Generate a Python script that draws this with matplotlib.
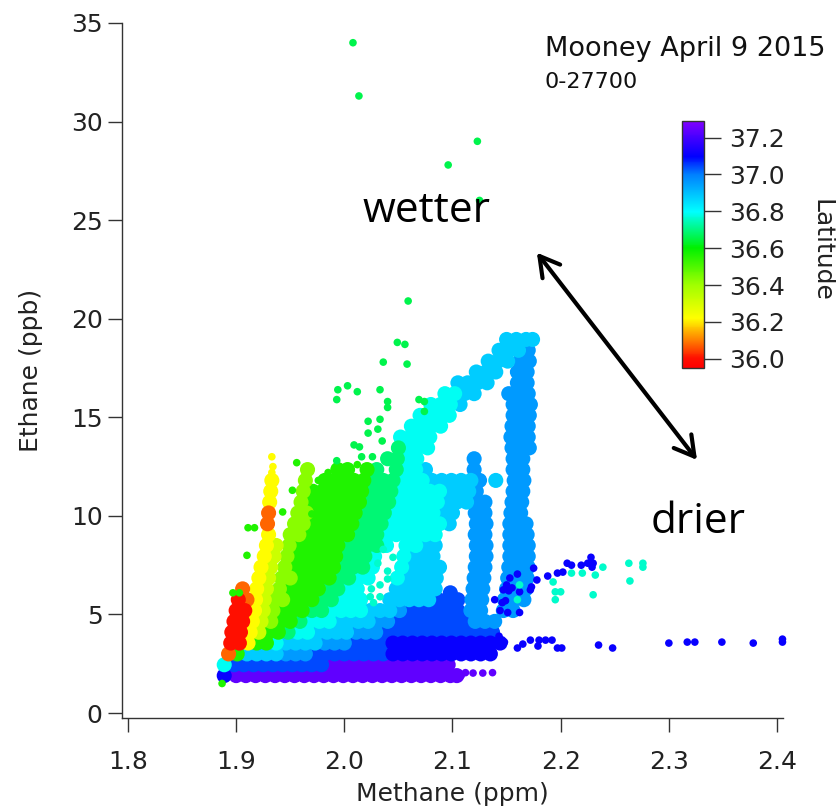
import matplotlib
matplotlib.use("Agg")
import matplotlib.pyplot as plt
from matplotlib.colors import LinearSegmentedColormap, Normalize
from matplotlib.cm import ScalarMappable

# ---------------- data: dense core, per latitude group, {Ethane ppb row: [Methane ppm, ...]} ----------------
purple_lat = 37.24
purple_rows = {
    1.9: [1.900,1.909,1.918,1.927,1.936,1.945,1.954,1.963,1.972,1.981,1.990,1.999,2.008,
          2.017,2.026,2.035,2.044,2.053,2.062,2.071,2.080,2.089,2.098,2.104],
    2.45: [1.988,1.997,2.006,2.015,2.024,2.033,2.042,2.051,2.060,2.069,2.078,2.087,2.096],
}
darkblue_lat = 37.11
darkblue_rows = {
    1.9: [1.889],
    3.0: [2.045,2.054,2.063,2.072,2.081,2.090,2.099,2.108,2.117,2.126,2.135],
    3.55: [2.045,2.054,2.063,2.072,2.081,2.090,2.099,2.108,2.117,2.126,2.135,2.144],
}
royal_lat = 37.04
royal_rows = {
    2.45: [1.898,1.907,1.916,1.925,1.934,1.943,1.952,1.961,1.970,1.979],
    3.0: [1.973,1.982,1.991,2.000,2.009,2.018,2.027,2.036],
    3.55: [2.009,2.018,2.027,2.036],
    4.1: [2.038,2.047,2.056,2.065,2.074,2.083,2.092,2.101,2.110,2.119,2.128,2.137],
    4.65: [2.049,2.058,2.067,2.076,2.085,2.094,2.103,2.112],
    5.2: [2.060,2.069,2.078,2.087,2.096,2.105],
    5.75: [2.087,2.096,2.105],
    6.1: [2.098],
}
azure_lat = 36.96
azure_rows = {
    3.0: [1.946,1.955,1.964],
    3.55: [1.982,1.991,2.000],
    4.1: [2.011,2.020,2.029],
    4.65: [2.031,2.040,2.121,2.130,2.139],
    5.2: [2.051,2.117,2.126,2.147,2.156],
    5.75: [2.118,2.127,2.148,2.157,2.166],
    6.3: [2.119,2.128,2.150,2.159,2.168],
    6.85: [2.120,2.129,2.151,2.160,2.169],
    7.4: [2.121,2.130,2.152,2.161,2.170],
    7.95: [2.122,2.131,2.153,2.162,2.170],
    8.5: [2.122,2.131,2.153,2.162,2.170],
    9.05: [2.121,2.130,2.153,2.162,2.169],
    9.6: [2.122,2.131,2.153,2.162,2.168],
    10.15: [2.121,2.130,2.154,2.163],
    10.7: [2.121,2.130,2.155,2.164],
    11.25: [2.122,2.156,2.165],
    11.8: [2.125,2.157,2.166],
    12.35: [2.120,2.156,2.165],
    12.9: [2.120,2.156,2.165],
    13.45: [2.155,2.165,2.171],
    14.0: [2.154,2.163,2.170],
    14.55: [2.155,2.164,2.170],
    15.1: [2.156,2.165,2.171],
    15.65: [2.156,2.165,2.172],
    16.2: [2.152,2.161,2.170],
    16.75: [2.160,2.169],
    17.3: [2.160,2.169],
    17.85: [2.162,2.171],
    18.4: [2.170],
}
lightblue_lat = 36.88
lightblue_rows = {
    3.0: [1.910,1.919,1.928,1.937],
    3.55: [1.946,1.955,1.964,1.973],
    4.1: [1.975,1.984,1.993,2.002],
    4.65: [1.995,2.004,2.013,2.022],
    5.2: [2.024,2.033,2.042],
    5.75: [2.042,2.051,2.060,2.069,2.078],
    6.3: [2.048,2.057,2.066,2.075,2.084],
    6.85: [2.058,2.067,2.076,2.085],
    7.4: [2.062,2.071,2.080,2.088],
    7.95: [2.064,2.073,2.082],
    8.5: [2.075,2.084],
    9.6: [2.097],
    10.15: [2.091,2.100],
    10.7: [2.095,2.104,2.113],
    11.25: [2.097,2.106,2.115],
    11.8: [2.081,2.090,2.099,2.108,2.117,2.140],
    12.35: [2.075],
    15.65: [2.107],
    16.2: [2.111,2.120],
    16.75: [2.105,2.114,2.123,2.132],
    17.3: [2.122,2.131,2.140],
    17.85: [2.133,2.142,2.151],
    18.4: [2.143,2.152,2.161],
    18.95: [2.150,2.159,2.168,2.174],
}
cyan_lat = 36.79
cyan_rows = {
    2.45: [1.889],
    3.55: [1.937],
    4.1: [1.957,1.966],
    4.65: [1.968,1.977,1.986],
    5.2: [1.988,1.997,2.006,2.015],
    5.75: [1.997,2.006,2.015],
    6.3: [2.003,2.012],
    6.85: [2.013,2.022,2.049],
    7.4: [2.026,2.053],
    7.95: [2.028,2.055],
    8.5: [2.039,2.057,2.066],
    9.05: [2.039,2.048,2.057,2.066,2.075,2.084],
    9.6: [2.043,2.052,2.061,2.070,2.079,2.088],
    10.15: [2.046,2.055,2.064,2.073,2.082],
    10.7: [2.050,2.059,2.068,2.077,2.086],
    11.25: [2.052,2.061,2.070,2.079,2.088],
    11.8: [2.054,2.063,2.072],
    12.35: [2.057,2.066],
    12.9: [2.058,2.067],
    13.45: [2.059,2.068,2.077],
    14.0: [2.052,2.061,2.070,2.079],
    14.55: [2.062,2.071,2.080,2.089],
    15.1: [2.070,2.079,2.088,2.097],
    15.65: [2.080,2.089,2.098],
    16.2: [2.093,2.102],
}
spring_lat = 36.69
spring_rows = {
    4.1: [1.948],
    4.65: [1.959],
    5.2: [1.970,1.979],
    5.75: [1.979,1.988],
    6.3: [1.985,1.994],
    6.85: [1.995,2.004],
    7.4: [1.999,2.008,2.017],
    7.95: [2.001,2.010,2.019],
    8.5: [2.003,2.012,2.021,2.030],
    9.05: [2.012,2.021,2.030],
    9.6: [2.016,2.025,2.034],
    10.15: [2.019,2.028,2.037],
    10.7: [2.023,2.032,2.041],
    11.25: [2.025,2.034,2.043],
    11.8: [2.027,2.036,2.045],
    12.35: [2.030,2.048],
    12.9: [2.040,2.049],
    13.45: [2.050],
}
green_lat = 36.56
green_rows = {
    3.0: [1.901],
    3.55: [1.919,1.928],
    4.1: [1.930,1.939],
    4.65: [1.941,1.950],
    5.2: [1.943,1.952,1.961],
    5.75: [1.952,1.961,1.970],
    6.3: [1.949,1.958,1.967,1.976],
    6.85: [1.959,1.968,1.977,1.986],
    7.4: [1.954,1.963,1.972,1.981,1.990],
    7.95: [1.956,1.965,1.974,1.983,1.992],
    8.5: [1.958,1.967,1.976,1.985,1.994],
    9.05: [1.967,1.976,1.985,1.994,2.003],
    9.6: [1.971,1.980,1.989,1.998,2.007],
    10.15: [1.974,1.983,1.992,2.001,2.010],
    10.7: [1.969,1.978,1.987,1.996,2.005,2.014],
    11.25: [1.971,1.980,1.989,1.998,2.007,2.016],
    11.8: [1.982,1.991,2.000,2.009,2.018],
    12.35: [1.994,2.003,2.021],
}
lime_lat = 36.43
lime_rows = {
    4.65: [1.932],
    5.2: [1.934],
    5.75: [1.935,1.943],
    6.3: [1.940],
    6.85: [1.942,1.950],
    7.4: [1.945],
    7.95: [1.947],
    8.5: [1.949],
    9.05: [1.950,1.958],
    9.6: [1.954,1.962],
    10.15: [1.957,1.965],
    10.7: [1.960],
    11.25: [1.962],
    11.8: [1.964],
    12.35: [1.966],
}
chartreuse_lat = 36.32
chartreuse_rows = {
    4.1: [1.921], 4.65: [1.923], 5.2: [1.925], 5.75: [1.926], 6.3: [1.928],
    6.85: [1.930], 7.4: [1.932], 7.95: [1.935], 8.5: [1.937],
}
yellow_lat = 36.22
yellow_rows = {
    3.55: [1.911], 4.1: [1.913], 4.65: [1.915], 5.2: [1.917], 5.75: [1.918],
    6.3: [1.919], 6.85: [1.921], 7.4: [1.923], 7.95: [1.926],
    8.5: [1.928], 9.05: [1.930], 10.7: [1.931], 11.25: [1.932], 11.8: [1.933],
}
orange_lat = 36.08
orange_rows = {
    3.0: [1.893], 5.75: [1.910], 6.3: [1.906], 9.6: [1.929], 10.15: [1.930],
}
red_lat = 36.0
red_rows = {
    3.55: [1.895,1.903], 4.1: [1.896,1.904], 4.65: [1.898,1.906],
    5.2: [1.900,1.908], 5.75: [1.902],
}

# ---------------- data: sparse individual points (Methane ppm, Ethane ppb) ----------------
purple_dots = [(2.108,1.9),(2.112,2.05),(2.119,2.03),(2.128,2.03),(2.137,2.05)]
darkblue_dots = [(2.143,3.9),(2.148,3.6),(2.160,3.3),(2.165,3.5),(2.172,3.7),(2.179,3.4),
                 (2.180,3.7),(2.186,3.7),(2.192,3.7),(2.197,3.3),(2.201,3.3),(2.235,3.45),
                 (2.248,3.3),(2.300,3.55),(2.317,3.6),(2.324,3.6),(2.349,3.6),(2.378,3.55),
                 (2.405,3.6),(2.405,3.75),
                 (2.175,7.35),(2.160,7.05),(2.153,6.85),(2.150,6.5),(2.152,6.2),(2.155,6.35),
                 (2.147,6.25),(2.162,6.15),(2.172,6.25),(2.178,6.75),(2.173,6.4),(2.139,5.75),
                 (2.146,5.6),(2.149,5.7),(2.144,5.2),(2.151,5.1),(2.162,5.1),(2.188,6.95),
                 (2.197,7.1),(2.202,7.15),(2.206,7.6),(2.210,7.5),(2.219,7.5),(2.225,7.6),
                 (2.228,7.9),(2.230,7.6),(2.229,7.4)]
aqua_lat = 36.76
aqua_dots = [(2.162,6.5),(2.160,5.75),(2.193,6.65),(2.195,6.15),(2.200,6.15),(2.195,5.75),
             (2.210,7.1),(2.220,7.1),(2.232,7.0),(2.239,7.4),(2.230,6.0),(2.263,7.6),
             (2.276,7.6),(2.276,7.4),(2.264,6.7),(2.027,5.6),(2.033,5.9),
             (2.025,6.3),(2.033,6.5),(2.040,7.2),(2.031,7.6),(2.045,7.9),(2.036,8.3),
             (2.024,5.9),(2.040,6.8)]
green_dots = [(1.956,12.7),(1.976,11.8),(1.976,11.3),(1.952,11.3),(1.970,10.1),(1.943,10.2),
              (1.911,9.4),(1.917,9.4),(1.910,8.0),(1.897,6.1),(1.903,6.1),(1.887,1.5),
              (1.985,12.2),(2.012,12.6)]
outlier_lat = 36.66
outlier_dots = [(2.008,34.0),(2.0135,31.3),(2.096,27.8),(2.123,29.0),(2.125,26.0),(2.059,20.9),
                (2.049,18.8),(2.056,18.7),(2.036,17.8),(2.058,17.7),(1.994,16.4),(2.003,16.6),
                (2.012,16.3),(2.033,16.4),(1.993,15.9),(2.040,15.8),(2.040,15.5),(2.069,15.9),
                (2.074,15.8),(2.074,15.3),(2.022,14.8),(2.033,14.9),(2.022,14.2),(2.031,14.4),
                (2.035,13.8),(2.009,13.6),(2.014,13.5),(2.016,13.0),(2.026,13.0),(1.993,12.8)]
yellow_dots = [(1.933,13.0),(1.934,12.5),(1.933,12.2)]

cbar_ticks = [36.0, 36.2, 36.4, 36.6, 36.8, 37.0, 37.2]
x_ticks = [1.8, 1.9, 2.0, 2.1, 2.2, 2.3, 2.4]
y_ticks = [0, 5, 10, 15, 20, 25, 30, 35]

# ---------------- styling ----------------
lat_min, lat_max = 35.95, 37.29
anchor_lats = [35.95, 36.0, 36.1, 36.22, 36.4, 36.6, 36.8, 37.0, 37.1, 37.29]
anchor_cols = ["#ff0000", "#ff1000", "#ff8000", "#ffff00", "#a0ff00", "#00f000",
               "#00ffff", "#0080ff", "#0000ff", "#8000ff"]
cmap = LinearSegmentedColormap.from_list(
    "lat", [((v - lat_min) / (lat_max - lat_min), c) for v, c in zip(anchor_lats, anchor_cols)])
norm = Normalize(lat_min, lat_max)

W, H = 837, 810
fig = plt.figure(figsize=(W / 100, H / 100), dpi=100)
ax = fig.add_axes([122 / W, 1 - 718 / H, (783 - 122) / W, (718 - 23) / H])

BLOB = 118
DOT = 30

def draw_pts(pts, lat, size, clip=True):
    xs = [p[0] for p in pts]
    ys = [p[1] for p in pts]
    ax.scatter(xs, ys, c=[lat] * len(pts), cmap=cmap, norm=norm, s=size,
               linewidths=0, clip_on=clip, zorder=2)

def draw_rows(rows, lat, size=BLOB):
    pts = [(x, y) for y, xs in rows.items() for x in xs]
    draw_pts(pts, lat, size)

draw_rows(purple_rows, purple_lat)
draw_rows(royal_rows, royal_lat)
draw_rows(darkblue_rows, darkblue_lat)
draw_rows(azure_rows, azure_lat)
draw_rows(lightblue_rows, lightblue_lat)
draw_rows(cyan_rows, cyan_lat)
draw_rows(spring_rows, spring_lat)
draw_rows(green_rows, green_lat)
draw_rows(lime_rows, lime_lat)
draw_rows(chartreuse_rows, chartreuse_lat)
draw_rows(yellow_rows, yellow_lat)
draw_rows(orange_rows, orange_lat)
draw_rows(red_rows, red_lat)
draw_pts(purple_dots, purple_lat, DOT)
draw_pts(darkblue_dots, darkblue_lat, DOT, clip=False)
draw_pts(aqua_dots, aqua_lat, DOT)
draw_pts(green_dots, green_lat, DOT)
draw_pts(outlier_dots, outlier_lat, DOT)
draw_pts(yellow_dots, yellow_lat, DOT)

ax.set_xlim(1.7945, 2.4055)
ax.set_ylim(-0.25, 35.0)
ax.set_xticks(x_ticks)
ax.set_xticklabels([f"{v:.1f}" for v in x_ticks])
ax.set_yticks(y_ticks)
for s in ["top", "right"]:
    ax.spines[s].set_visible(False)
for s in ["left", "bottom"]:
    ax.spines[s].set_color("#333333")
    ax.spines[s].set_linewidth(1.0)
ax.tick_params(axis="both", direction="out", length=10, width=1.0, color="#333333",
               labelsize=18, labelcolor="#222222")
ax.tick_params(axis="x", pad=13)
ax.tick_params(axis="y", pad=4)
ax.set_xlabel("Methane (ppm)", fontsize=18, color="#222222", labelpad=6)
ax.set_ylabel("Ethane (ppb)", fontsize=18, color="#222222", labelpad=20)

# colorbar
cax = fig.add_axes([682 / W, 1 - 368 / H, 22 / W, 247 / H])
sm = ScalarMappable(norm=norm, cmap=cmap)
cb = fig.colorbar(sm, cax=cax, ticks=cbar_ticks)
cb.outline.set_linewidth(1.0)
cb.outline.set_edgecolor("#333333")
cax.set_yticklabels([f"{v:.1f}" for v in cbar_ticks])
cax.tick_params(direction="out", length=12, width=1.0, color="#333333",
                labelsize=18, labelcolor="#222222", pad=6)
fig.text(822 / W, 1 - 250 / H, "Latitude", rotation=270, fontsize=18, color="#222222",
         ha="center", va="center")

# titles
fig.text(545 / W, 1 - 56 / H, "Mooney April 9 2015", fontsize=19.5, color="#111111",
         ha="left", va="baseline")
fig.text(545 / W, 1 - 88 / H, "0-27700", fontsize=16, color="#111111",
         ha="left", va="baseline")

# annotations
ax.annotate("", xy=(2.178, 23.35), xytext=(2.326, 12.84),
            arrowprops=dict(arrowstyle="<->, head_length=0.7, head_width=0.4",
                            lw=3, color="black", mutation_scale=20,
                            shrinkA=0, shrinkB=0), zorder=5)
ax.text(2.017, 24.9, "wetter", fontsize=30.5, family="Open Sans", ha="left", va="baseline",
        color="black", zorder=6)
ax.text(2.283, 9.14, "drier", fontsize=30.5, family="Open Sans", ha="left", va="baseline",
        color="black", zorder=6)

fig.savefig("out.png", dpi=100)
